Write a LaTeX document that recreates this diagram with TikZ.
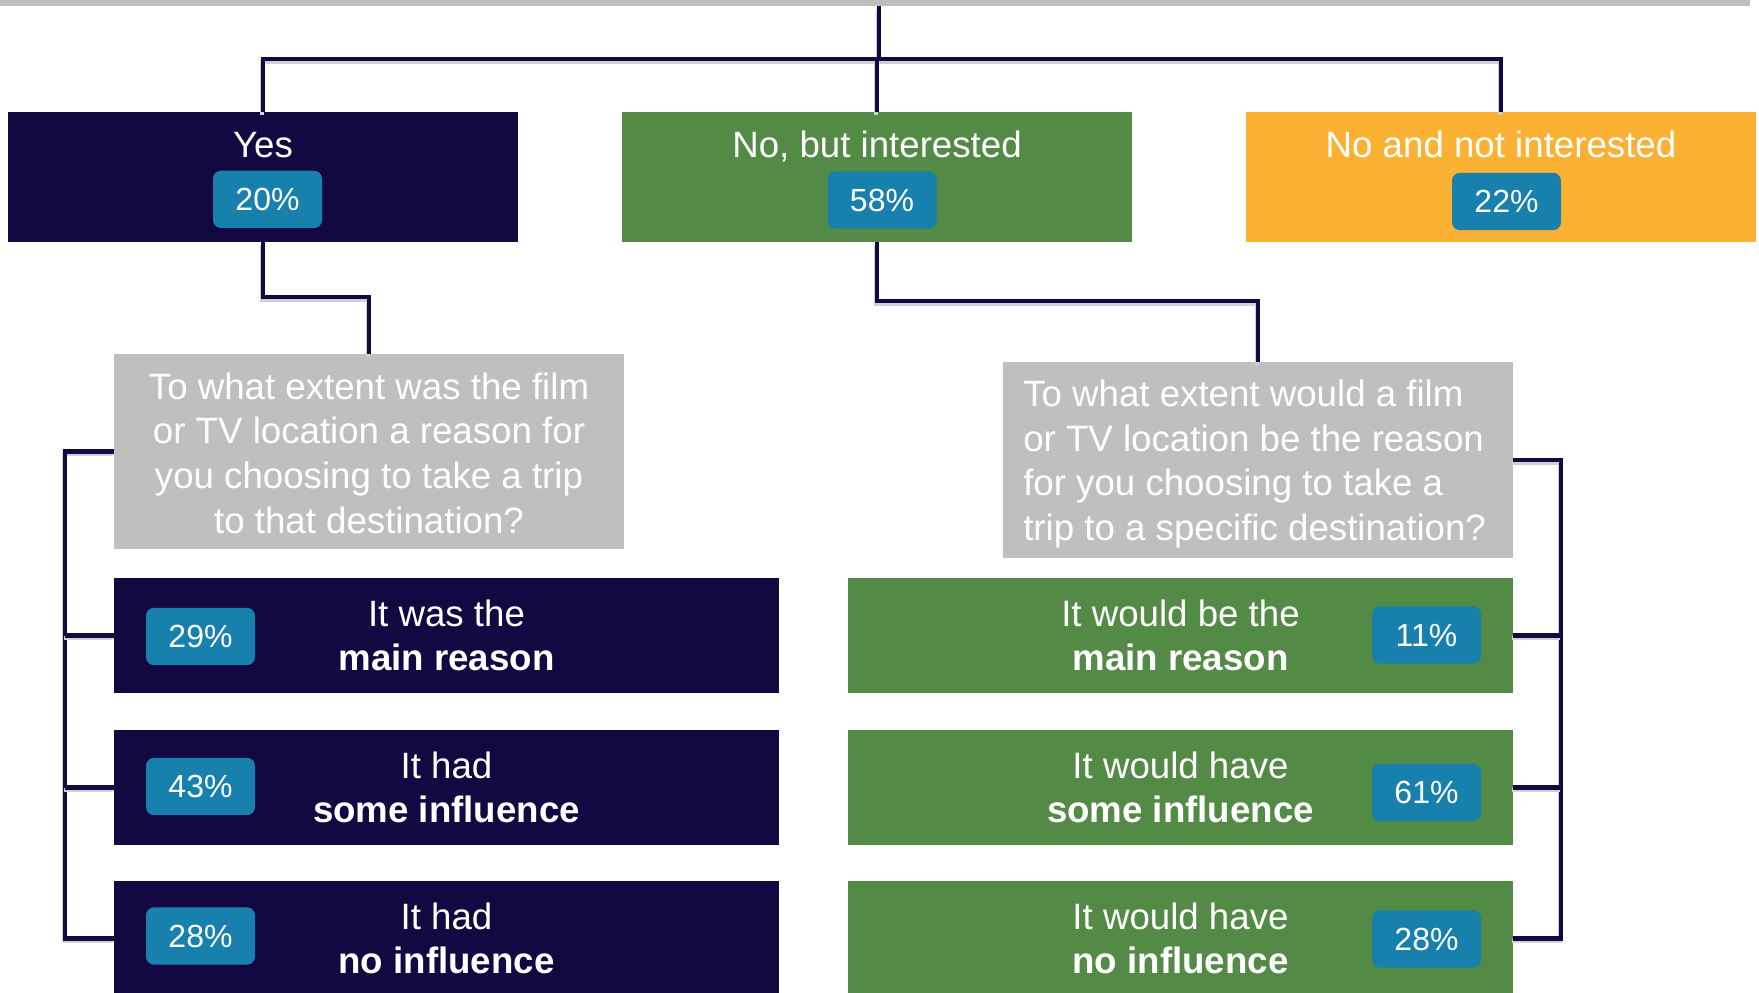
\documentclass[tikz,border=0pt]{standalone}
\usepackage{fontspec}
\setmainfont{Liberation Sans}
\definecolor{navy}{RGB}{19,8,66}
\definecolor{leaf}{RGB}{83,139,70}
\definecolor{amber}{RGB}{251,177,52}
\definecolor{chip}{RGB}{23,128,173}
\definecolor{greyc}{RGB}{191,191,191}
\newcommand\mainf{\fontsize{27.5pt}{33.5pt}\selectfont}
\newcommand\badgef{\fontsize{24pt}{28pt}\selectfont}
\begin{document}
\begin{tikzpicture}[x=0.75pt,y=-0.75pt,
  box/.style={inner sep=0pt, outer sep=0pt, text=white, align=center, font=\mainf},
  topbox/.style={box, minimum width=382.5pt, minimum height=97.5pt},
  qbox/.style={box, fill=greyc, minimum width=382.5pt},
  ansbox/.style={box, minimum width=498.75pt, minimum height=86.25pt},
  lbl/.style={inner sep=0pt, text=white, font=\mainf, align=center},
  chipbox/.style={fill=chip, rounded corners=6pt, text=white, font=\badgef,
    minimum width=81.75pt, minimum height=43pt, inner sep=0pt,
    text height=17.2pt, text depth=0pt},
  conn/.style={draw=navy, line width=3.2pt, line join=miter,
    preaction={draw=black!18, line width=3.2pt, transform canvas={xshift=-1pt,yshift=-2pt}}}
]
\useasboundingbox (0,0) rectangle (1759,992);

% top grey bar (bottom of question box above)
\node[box, fill=greyc, minimum width=1312.5pt, minimum height=19.5pt, anchor=south west] (q0) at (0,6) {};

% top level boxes
\node[topbox, fill=navy] (yes) at (263,177) {};
\node[topbox, fill=leaf] (but) at (877,177) {};
\node[topbox, fill=amber] (noi) at (1501,177) {};
\node[lbl, anchor=base] (yesl) at (263,157) {Yes};
\node[lbl, anchor=base] (butl) at (877,157) {No, but interested};
\node[lbl, anchor=base] (noil) at (1501,157) {No and not interested};
\node[chipbox] (yesp) at (267.5,199.4) {20\%};
\node[chipbox] (butp) at (882,200) {58\%};
\node[chipbox] (noip) at (1506.5,201.5) {22\%};

% question boxes
\node[qbox, minimum height=146.25pt] (q1) at (369,451.5) {};
\node[lbl] (q1t) at (369,453) {To what extent was the film\\or TV location a reason for\\you choosing to take a trip\\to that destination?};
\node[qbox, minimum height=147pt] (q2) at (1258,460) {};
\node[lbl, align=left, anchor=west] (q2t) at (1023,464) {To what extent would a film\\or TV location be the reason\\for you choosing to take a\\trip to a specific destination?};

% answer boxes left
\node[ansbox, fill=navy] (a1) at (446.5,635.5) {It was the\\\textbf{main reason}};
\node[ansbox, fill=navy] (a2) at (446.5,787.5) {It had\\\textbf{some influence}};
\node[ansbox, fill=navy] (a3) at (446.5,938.5) {It had\\\textbf{no influence}};
\node[chipbox] (a1p) at (200.5,636.5) {29\%};
\node[chipbox] (a2p) at (200.5,786.5) {43\%};
\node[chipbox] (a3p) at (200.5,936) {28\%};

% answer boxes right
\node[ansbox, fill=leaf] (b1) at (1180.5,635.5) {It would be the\\\textbf{main reason}};
\node[ansbox, fill=leaf] (b2) at (1180.5,787.5) {It would have\\\textbf{some influence}};
\node[ansbox, fill=leaf] (b3) at (1180.5,938.5) {It would have\\\textbf{no influence}};
\node[chipbox] (b1p) at (1426.5,635) {11\%};
\node[chipbox] (b2p) at (1426.5,792.5) {61\%};
\node[chipbox] (b3p) at (1426.5,939) {28\%};

% connectors
\coordinate (hub) at (879,59);
\coordinate (lb) at (65,0);
\coordinate (rb) at (1561,0);
\draw[conn] (q0.south -| hub) -- (hub);
\draw[conn] (yes.north) |- (hub) -| (noi.north);
\draw[conn] (but.north) -- (but.north |- hub);
\draw[conn] (yes.south) -- ++(0,55) -| (q1.north);
\draw[conn] (but.south) -- ++(0,59) -| (q2.north);

\draw[conn] (q1.west) -| (lb |- a3.west) -- (a3.west);
\draw[conn] (a1.west) -- (lb |- a1.west);
\draw[conn] (a2.west) -- (lb |- a2.west);

\draw[conn] (q2.east) -| (rb |- b3.east) -- (b3.east);
\draw[conn] (b1.east) -- (rb |- b1.east);
\draw[conn] (b2.east) -- (rb |- b2.east);
\end{tikzpicture}
\end{document}
